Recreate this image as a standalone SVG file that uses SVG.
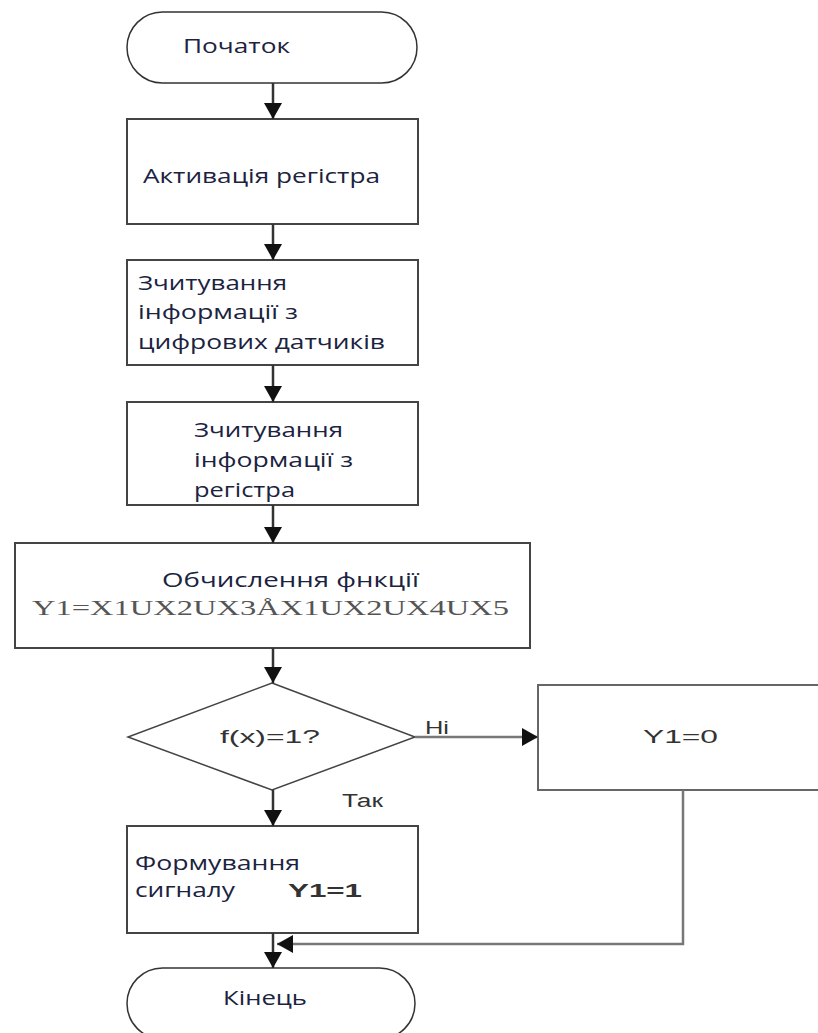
<svg xmlns="http://www.w3.org/2000/svg" width="818" height="1033" viewBox="0 0 818 1033">
<style>
.box{fill:#fff;stroke:#444;stroke-width:2}
.gbox{fill:#fff;stroke:#666;stroke-width:2}
.term{fill:#fff;stroke:#333;stroke-width:1.5}
.dia{fill:#fff;stroke:#444;stroke-width:1.5}
.t{font-family:"Open Sans","Noto Sans",sans-serif;font-size:20px;fill:#1b2340}
.a{font-family:"Liberation Sans",Arial,sans-serif;font-size:18px;fill:#333}
.f{font-family:"Liberation Serif","Times New Roman",serif;font-size:22px;fill:#555}
.ln{fill:none;stroke:#333;stroke-width:2.5}
.gl{fill:none;stroke:#777;stroke-width:2.5}
</style>
<defs>
<marker id="ah" viewBox="0 0 16 18" refX="16" refY="9" markerWidth="16" markerHeight="18" markerUnits="userSpaceOnUse" orient="auto">
<path d="M0,0 L16,9 L0,18 Z" fill="#111"/>
</marker>
</defs>
<g id="start">
<rect class="term" x="127" y="12" width="290" height="71" rx="35.5"/>
<text class="t" x="183" y="53" font-size="21" textLength="107" lengthAdjust="spacingAndGlyphs">Початок</text>
</g>
<g id="activate">
<rect class="box" x="127" y="119" width="291" height="105"/>
<text class="t" x="143" y="183" textLength="237" lengthAdjust="spacingAndGlyphs">Активація регістра</text>
</g>
<g id="read-sensors">
<rect class="box" x="127" y="260" width="291" height="105"/>
<text class="t" x="138" y="290" textLength="149" lengthAdjust="spacingAndGlyphs">Зчитування</text>
<text class="t" x="138" y="319" textLength="160" lengthAdjust="spacingAndGlyphs">інформації з</text>
<text class="t" x="138" y="349" textLength="247" lengthAdjust="spacingAndGlyphs">цифрових датчиків</text>
</g>
<g id="read-register">
<rect class="box" x="127" y="402" width="291" height="103"/>
<text class="t" x="194" y="437" textLength="149" lengthAdjust="spacingAndGlyphs">Зчитування</text>
<text class="t" x="194" y="467" textLength="159" lengthAdjust="spacingAndGlyphs">інформації з</text>
<text class="t" x="194" y="497" textLength="101" lengthAdjust="spacingAndGlyphs">регістра</text>
</g>
<g id="compute">
<rect class="box" x="15" y="543" width="515" height="105"/>
<text class="t" x="162" y="587" textLength="257" lengthAdjust="spacingAndGlyphs">Обчислення фнкції</text>
<text class="f" x="32" y="615" textLength="477" lengthAdjust="spacingAndGlyphs">Y1=X1UX2UX3ÅX1UX2UX4UX5</text>
</g>
<g id="decision">
<polygon class="dia" points="272,683 415,737 272,790 128,737"/>
<text class="a" x="220" y="743" textLength="100" lengthAdjust="spacingAndGlyphs">f(x)=1?</text>
</g>
<g id="y0">
<rect class="gbox" x="538" y="685" width="290" height="105"/>
<text class="a" x="643" y="743" font-size="20" textLength="75" lengthAdjust="spacingAndGlyphs">Y1=0</text>
</g>
<g id="form-signal">
<rect class="box" x="127" y="826" width="291" height="107"/>
<text class="t" x="135" y="870" textLength="165" lengthAdjust="spacingAndGlyphs">Формування</text>
<text class="t" x="135" y="897" textLength="100" lengthAdjust="spacingAndGlyphs">сигналу</text>
<text class="a" x="288" y="897" font-size="19" font-weight="bold" textLength="74" lengthAdjust="spacingAndGlyphs">Y1=1</text>
</g>
<g id="end">
<rect class="term" x="127" y="968" width="288" height="71" rx="35.5"/>
<text class="t" x="223" y="1005" font-size="21" textLength="84" lengthAdjust="spacingAndGlyphs">Кінець</text>
</g>
<g id="connectors">
<line class="ln" x1="273" y1="83" x2="273" y2="119" marker-end="url(#ah)"/>
<line class="ln" x1="273" y1="224" x2="273" y2="260" marker-end="url(#ah)"/>
<line class="ln" x1="273" y1="365" x2="273" y2="402" marker-end="url(#ah)"/>
<line class="ln" x1="273" y1="505" x2="273" y2="543" marker-end="url(#ah)"/>
<line class="ln" x1="273" y1="648" x2="273" y2="683" marker-end="url(#ah)"/>
<line class="ln" x1="273" y1="790" x2="273" y2="826" marker-end="url(#ah)"/>
<line class="ln" x1="273" y1="933" x2="273" y2="968" marker-end="url(#ah)"/>
<line class="gl" x1="415" y1="737" x2="538" y2="737" stroke-width="3" marker-end="url(#ah)"/>
<polyline class="gl" points="683,790 683,944 277,944" marker-end="url(#ah)"/>
<text class="a" x="425" y="734" fill="#1b2340" textLength="24" lengthAdjust="spacingAndGlyphs">Hi</text>
<text class="a" x="342" y="807" fill="#1b2340" textLength="41" lengthAdjust="spacingAndGlyphs">Так</text>
</g>
</svg>
